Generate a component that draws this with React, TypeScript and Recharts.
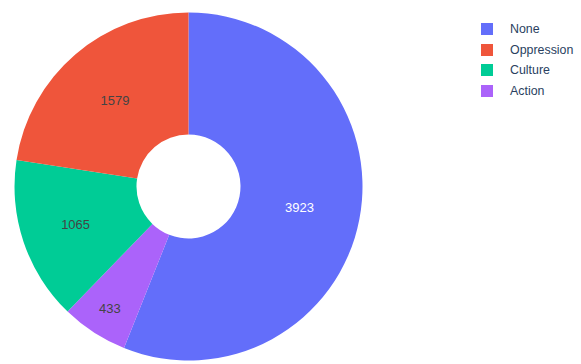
import { PieChart, Pie, Cell, Legend } from "recharts";

// slice order as drawn, clockwise from 12 o'clock
const sliceNames = ["None", "Action", "Culture", "Oppression"];
const sliceValues = [3923, 433, 1065, 1579];

// legend order as shown
const legendNames = ["None", "Oppression", "Culture", "Action"];

const colors: Record<string, string> = {
    None: "#636efa",
    Oppression: "#EF553B",
    Culture: "#00cc96",
    Action: "#ab63fa",
};

// narrow slices push their text outward (like plotly's inside text)
const labelPos: Record<string, number> = {
    None: 0.5,
    Oppression: 0.5,
    Culture: 0.55,
    Action: 0.76,
};

const FONT = 'Arial, "Liberation Sans", sans-serif';
const RAD = Math.PI / 180;

const data = sliceNames.map((name, i) => ({ name, value: sliceValues[i] }));

function renderLabel(props: any) {
    const { cx, cy, midAngle, innerRadius, outerRadius, value, name } = props;
    const r = innerRadius + (outerRadius - innerRadius) * (labelPos[name] ?? 0.5);
    const x = cx + r * Math.cos(-midAngle * RAD);
    const y = cy + r * Math.sin(-midAngle * RAD);
    return (
        <text
            x={x}
            y={y}
            textAnchor="middle"
            dominantBaseline="central"
            fontFamily={FONT}
            fontSize={13}
            fill={name === "None" ? "#ffffff" : "#444444"}
        >
            {value}
        </text>
    );
}

function LegendBox() {
    return (
        <div style={{ fontFamily: FONT, fontSize: 12.4, color: "#2a3f5f" }}>
            {legendNames.map(name => (
                <div
                    key={name}
                    style={{ display: "flex", alignItems: "center", height: 20.5 }}
                >
                    <span
                        style={{
                            display: "inline-block",
                            width: 12,
                            height: 12,
                            background: colors[name],
                            marginRight: 17,
                        }}
                    />
                    <span>{name}</span>
                </div>
            ))}
        </div>
    );
}

export default function App() {
    return (
        <div style={{ position: "absolute", left: 0, top: 0, background: "#fff" }}>
            <PieChart
                width={581}
                height={364}
                margin={{ top: 0, right: 0, bottom: 0, left: 0 }}
            >
                <Pie
                    data={data}
                    dataKey="value"
                    nameKey="name"
                    cx={188.5}
                    cy={186.5}
                    innerRadius={52}
                    outerRadius={174}
                    startAngle={90}
                    endAngle={-270}
                    stroke="none"
                    label={renderLabel}
                    labelLine={false}
                    isAnimationActive={false}
                >
                    {data.map(d => (
                        <Cell key={d.name} fill={colors[d.name]} />
                    ))}
                </Pie>
                <Legend
                    content={() => <LegendBox />}
                    wrapperStyle={{ left: 481, top: 19, width: 100 }}
                />
            </PieChart>
        </div>
    );
}
